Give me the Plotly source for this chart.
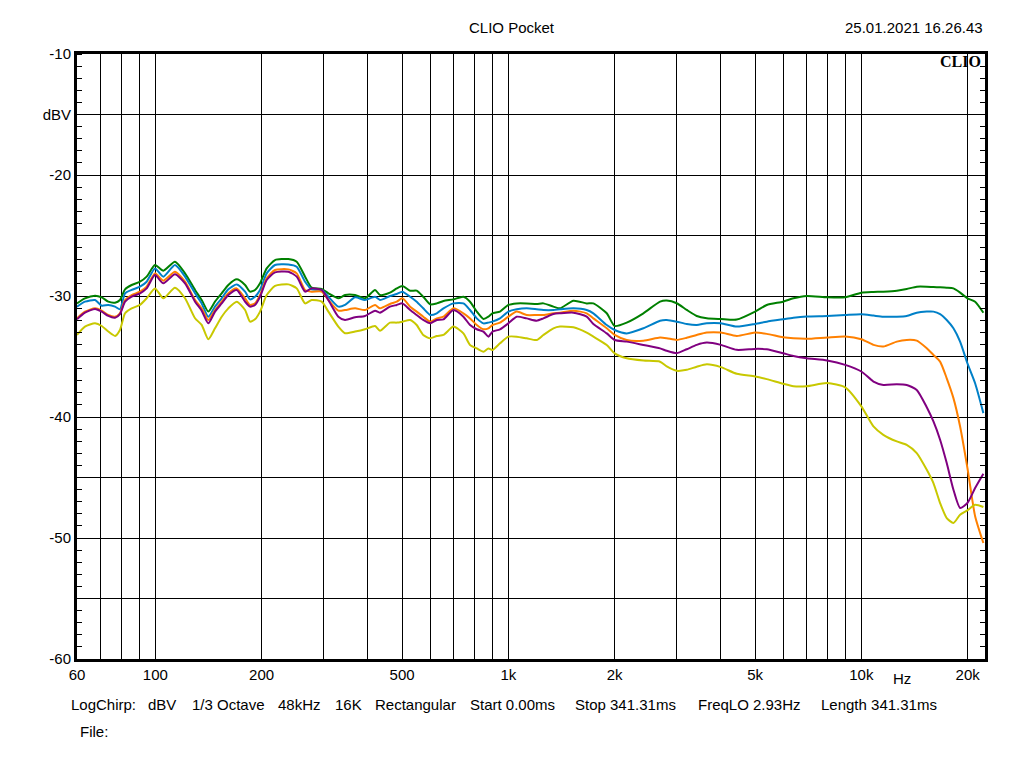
import plotly.graph_objects as go

# frequency points (Hz)
freq = [60, 63.2, 67.5, 70.5, 73.6, 76.9, 79.4, 82.1, 85.7, 90.5, 94.5, 99.8, 105.4, 113.7,
        121.4, 129.6, 135.3, 141.3, 147.6, 154.2, 161.0, 170.1, 179.6, 185.5, 191.6, 198.0,
        206.8, 218.3, 238.2, 251.5, 265.6, 277.3, 296.0, 309.2, 330.0, 344.7, 368.0, 392.6,
        419.2,
        433, 462, 483, 501, 527, 550, 574, 601, 627, 655, 699, 746, 779, 814, 850, 878, 901,
        947, 1000, 1056, 1127, 1203, 1257, 1342, 1401, 1529, 1667, 1741, 1900, 2001, 2164,
        2413, 2690,
        2810, 3000, 3201, 3417, 3648, 4000, 4436, 5000, 5395, 6000, 6420, 7000, 8000, 9000,
        10000,
        10820, 11540, 12600, 13440, 14350, 15320, 16000, 16710, 17450, 18230, 19040, 19970,
        21000, 22160]

green = [-30.61, -30.19, -29.97, -30.11, -30.47, -30.55, -30.33, -29.45, -29.09, -28.82,
         -28.40, -27.44, -27.91, -27.17, -28.13, -29.50, -30.33, -31.29, -30.47, -29.78,
         -29.09, -28.62, -29.09, -29.64, -29.50, -28.95, -27.72, -27.03, -26.95, -27.17,
         -28.40, -29.31, -29.42, -29.78, -30.19, -29.92, -29.92, -30.19, -29.50,
         -29.92, -29.72, -29.37, -29.17, -29.56, -29.56, -30.06, -30.69, -30.61, -30.41,
         -30.28, -30.06, -30.47, -31.29, -31.90, -31.71, -31.43, -31.29, -30.74, -30.61,
         -30.61, -30.66, -30.61, -30.88, -31.02, -30.39, -30.61, -30.61, -31.43, -32.48,
         -32.20, -31.43, -30.47,
         -30.38, -30.60, -31.15, -31.65, -31.84, -31.90, -31.95, -31.29, -30.74, -30.47,
         -30.19, -30.00, -30.11, -30.11, -29.73,
         -29.67, -29.64, -29.56, -29.42, -29.23, -29.23, -29.26, -29.28, -29.31, -29.37,
         -29.72, -30.19, -30.47, -31.38]

blue = [-30.88, -30.47, -30.33, -30.80, -30.74, -30.88, -31.10, -29.78, -29.50, -29.23,
        -28.82, -27.72, -28.40, -27.44, -28.40, -29.78, -30.61, -31.71, -30.88, -30.19,
        -29.45, -29.04, -29.64, -30.28, -30.06, -29.50, -28.13, -27.44, -27.39, -27.58,
        -28.82, -29.45, -29.50, -30.06, -30.88, -30.74, -30.11, -30.33, -30.06,
        -30.33, -30.00, -29.83, -29.64, -30.06, -30.47, -31.02, -31.57, -31.43, -31.02,
        -30.61, -30.61, -31.16, -31.85, -32.26, -32.20, -32.12, -31.85, -31.29, -31.10,
        -31.02, -31.10, -31.16, -31.16, -31.10, -31.02, -31.16, -31.43, -32.40, -32.81,
        -33.09, -32.67, -32.04,
        -31.98, -32.12, -32.31, -32.39, -32.25, -32.25, -32.53, -32.31, -32.12, -31.92,
        -31.80, -31.70, -31.65, -31.57, -31.51,
        -31.62, -31.71, -31.71, -31.65, -31.38, -31.29, -31.29, -31.49, -31.98, -32.67,
        -33.77, -35.56, -37.21, -39.68]

orange = [-31.84, -31.29, -31.02, -31.21, -31.57, -31.71, -31.43, -30.33, -29.92, -29.64,
          -29.23, -28.13, -28.73, -27.99, -28.82, -30.33, -31.02, -31.98, -31.16, -30.47,
          -29.78, -29.37, -30.19, -30.74, -30.61, -29.92, -28.54, -27.85, -27.80, -28.13,
          -29.50, -29.64, -29.64, -30.33, -31.21, -31.16, -31.02, -31.16, -30.74,
          -31.02, -30.66, -30.47, -30.19, -30.88, -31.29, -31.71, -32.12, -31.85, -31.71,
          -31.02, -31.43, -31.85, -32.40, -32.75, -32.67, -32.40, -32.20, -31.71, -31.29,
          -31.57, -31.57, -31.57, -31.43, -31.38, -31.21, -31.43, -31.85, -32.67, -33.22,
          -33.64, -33.69, -33.44,
          -33.49, -33.63, -33.45, -33.22, -33.02, -33.02, -33.30, -33.02, -33.13, -33.41,
          -33.50, -33.54, -33.43, -33.35, -33.57,
          -34.04, -34.18, -33.77, -33.63, -33.69, -34.32, -34.87, -35.42, -36.80, -38.44,
          -40.78, -44.20, -48.20, -50.41]

purple = [-31.93, -31.38, -31.07, -31.29, -31.65, -31.79, -31.49, -30.47, -30.06, -29.78,
          -29.37, -28.27, -28.95, -28.21, -28.95, -30.47, -31.21, -32.26, -31.29, -30.61,
          -29.92, -29.50, -30.47, -30.88, -30.74, -30.06, -28.68, -28.05, -27.99, -28.40,
          -29.64, -29.37, -29.50, -30.33, -31.71, -31.98, -31.76, -31.65, -31.21,
          -31.38, -30.88, -30.74, -30.61, -31.16, -31.57, -31.98, -32.26, -31.98, -31.93,
          -31.16, -31.71, -32.40, -32.75, -32.95, -33.36, -32.95, -32.75, -32.26, -31.71,
          -31.85, -32.04, -31.85, -31.49, -31.43, -31.38, -31.71, -32.31, -33.09, -33.64,
          -33.77, -34.05, -34.33,
          -34.53, -34.73, -34.40, -34.04, -33.85, -34.04, -34.45, -34.37, -34.40, -34.73,
          -34.95, -35.14, -35.33, -35.69, -36.24,
          -37.07, -37.35, -37.29, -37.35, -37.76, -39.19, -40.37, -41.88, -43.81, -46.01,
          -47.52, -47.11, -45.87, -44.69]

yellow = [-33.22, -32.53, -32.26, -32.48, -32.94, -33.30, -32.81, -31.43, -31.02, -30.74,
          -30.19, -29.37, -30.19, -29.31, -30.19, -31.84, -32.39, -33.58, -32.67, -31.71,
          -31.02, -30.47, -31.16, -32.12, -31.93, -31.29, -29.92, -29.17, -29.04, -29.37,
          -30.61, -30.33, -30.47, -31.29, -32.53, -33.08, -32.94, -32.75, -32.48,
          -32.87, -32.20, -32.20, -32.12, -31.98, -32.40, -33.22, -33.50, -33.31, -33.22,
          -32.53, -33.09, -34.05, -34.33, -34.60, -34.33, -34.46, -33.91, -33.36, -33.36,
          -33.50, -33.64, -33.22, -32.67, -32.53, -32.59, -33.03, -33.36, -34.05, -34.74,
          -35.15, -35.34, -35.43,
          -35.82, -36.18, -36.10, -35.85, -35.65, -35.88, -36.43, -36.65, -36.87, -37.25,
          -37.45, -37.45, -37.20, -37.55, -39.12,
          -40.78, -41.47, -42.02, -42.30, -42.98, -44.36, -45.46, -47.11, -48.35, -48.76,
          -48.07, -47.72, -47.25, -47.44]

series = [("green", green, "#008000"), ("blue", blue, "#0080c8"),
          ("orange", orange, "#ff8000"), ("purple", purple, "#800080"),
          ("yellow", yellow, "#c8c800")]

x_grid = [70, 80, 90, 100, 200, 300, 400, 500, 600, 700, 800, 900, 1000,
          2000, 3000, 4000, 5000, 6000, 7000, 8000, 9000, 10000, 20000]
x_labels = {60: "60", 100: "100", 200: "200", 500: "500", 1000: "1k", 2000: "2k",
            5000: "5k", 10000: "10k", 20000: "20k"}
y_grid = [-60, -55, -50, -45, -40, -35, -30, -25, -20, -15, -10]
y_labels = {-60: "-60", -50: "-50", -40: "-40", -30: "-30", -20: "-20", -15: "dBV", -10: "-10"}

info = [("LogChirp:", 69), ("dBV", 146), ("1/3 Octave", 190), ("48kHz", 276), ("16K", 333),
        ("Rectangular", 373), ("Start 0.00ms", 468), ("Stop 341.31ms", 573),
        ("FreqLO 2.93Hz", 696), ("Length 341.31ms", 819)]

fig = go.Figure()
for name, vals, col in series:
    fig.add_trace(go.Scatter(x=freq, y=vals, mode="lines", name=name,
                             line=dict(color=col, width=2, shape="spline", smoothing=0.6)))
# dummy trace so the right-hand tick axis gets drawn
fig.add_trace(go.Scatter(x=[1000], y=[-30], yaxis="y2", mode="markers",
                         marker=dict(opacity=0), showlegend=False, hoverinfo="skip"))

xticks = [60] + x_grid
fig.update_xaxes(type="log", range=[1.7782, 4.3502],
                 tickvals=xticks, ticktext=[x_labels.get(v, "") for v in xticks],
                 showgrid=True, gridcolor="black", gridwidth=1, ticks="",
                 showline=True, linecolor="black", linewidth=3, mirror=True,
                 zeroline=False, tickfont=dict(size=15, color="black"))
fig.update_yaxes(range=[-60, -10], tickvals=y_grid,
                 ticktext=[y_labels.get(v, "") for v in y_grid],
                 showgrid=True, gridcolor="black", gridwidth=1, ticks="",
                 minor=dict(dtick=1, ticks="inside", ticklen=5, tickcolor="black", showgrid=False),
                 showline=True, linecolor="black", linewidth=3, mirror=True,
                 zeroline=False, tickfont=dict(size=15, color="black"))

# the page adds an 8px body margin, so the figure is 8px smaller and shifted
OFF = 8
FW, FH = 1024 - OFF, 768 - OFF
W0, W1, H0, H1 = 77, 985, 54, 659.5  # plot box in window pixels


def px(x):
    return (x - W0) / (W1 - W0)


def py(y):
    return (H1 - y) / (H1 - H0)


ann = [dict(text="CLIO Pocket", x=px(512), y=py(27), xanchor="center"),
       dict(text="25.01.2021 16.26.43", x=px(985), y=py(27), xanchor="right"),
       dict(text="<b>CLIO</b>", x=px(983), y=py(62), xanchor="right",
            font=dict(family="Liberation Serif", size=16, color="black")),
       dict(text="Hz", x=px(902), y=py(679), xanchor="center"),
       dict(text="File:", x=px(78), y=py(732), xanchor="left")]
for t, xp in info:
    ann.append(dict(text=t, x=px(xp), y=py(705), xanchor="left"))
for a in ann:
    a.update(xref="paper", yref="paper", yanchor="middle", showarrow=False)
    a.setdefault("font", dict(family="Liberation Sans", size=15, color="black"))

fig.update_layout(
    width=FW, height=FH,
    margin=dict(l=W0 - OFF, r=FW - (W1 - OFF), t=H0 - OFF, b=FH - (H1 - OFF)),
    paper_bgcolor="white", plot_bgcolor="white",
    showlegend=False,
    font=dict(family="Liberation Sans", size=15, color="black"),
    yaxis2=dict(overlaying="y", side="right", range=[-60, -10], showgrid=False,
                showticklabels=False, ticks="", zeroline=False,
                minor=dict(dtick=1, ticks="inside", ticklen=5, tickcolor="black")),
    annotations=ann,
)

fig.write_html("out.html")
